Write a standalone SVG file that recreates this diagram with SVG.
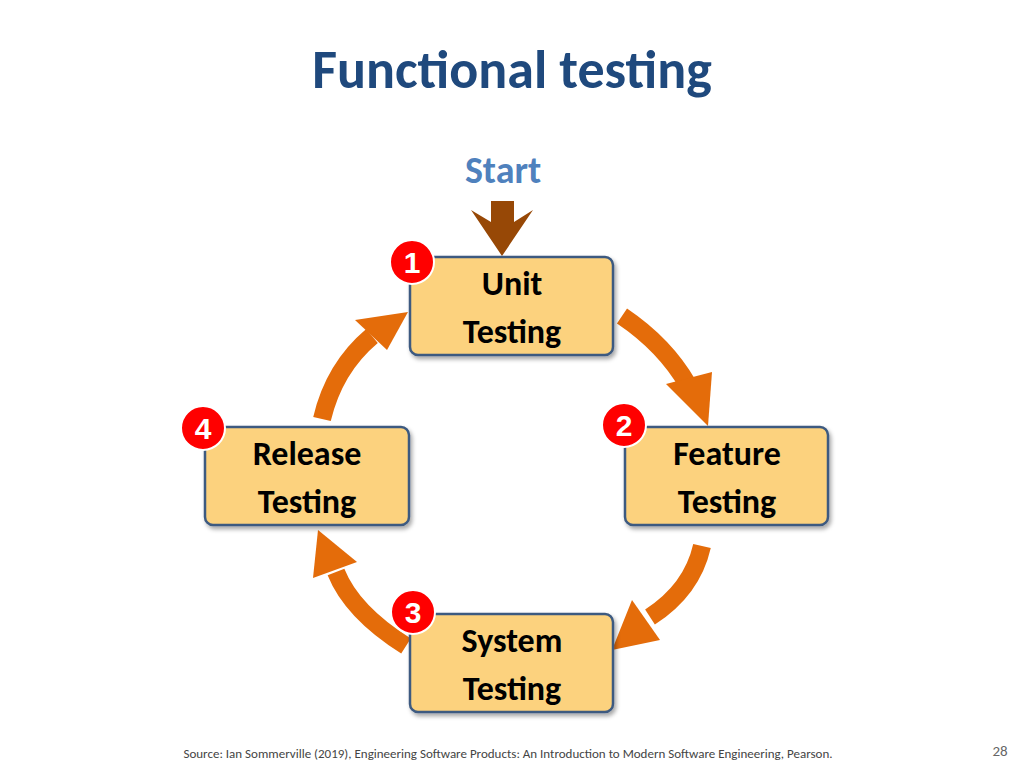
<svg xmlns="http://www.w3.org/2000/svg" width="1024" height="768" viewBox="0 0 1024 768">
<defs>
<style>
.box{fill:#fcd27e;stroke:#3e5a80;stroke-width:2.5}
.lbl{font-family:Calibri,Carlito,"Liberation Sans",sans-serif;font-weight:bold;font-size:34px;fill:#000;text-anchor:middle}
.shaft{fill:none;stroke:#e46c0a;stroke-width:18}
.head{fill:#e46c0a}
.badge{fill:#ff0000;stroke:#fff;stroke-width:2}
.num{font-family:"Liberation Sans",Arial,sans-serif;font-weight:bold;font-size:30px;fill:#fff;text-anchor:middle}
</style>
<filter id="sh" x="-10%" y="-10%" width="130%" height="130%"><feDropShadow dx="2" dy="3" stdDeviation="2" flood-opacity="0.35"/></filter>
</defs>
<rect width="1024" height="768" fill="#fff"/>
<text x="512" y="88" font-family="Calibri,Carlito,'Liberation Sans',sans-serif" font-weight="bold" font-size="54" fill="#1f497d" text-anchor="middle">Functional testing</text>
<text x="503" y="183" font-family="Calibri,Carlito,'Liberation Sans',sans-serif" font-weight="bold" font-size="38" fill="#4f81bd" text-anchor="middle">Start</text>
<g id="connectors">
<polygon points="491,201 514,201 514,222 533,210 502,256 471,210 491,222" fill="#974806"/>
<path class="shaft" d="M622,316 Q665,345 688,385"/>
<polygon class="head" points="666,384 712,372 708,426"/>
<path class="shaft" d="M702,546 Q692,590 650,617"/>
<polygon class="head" points="632,600 660,640 612,650"/>
<path class="shaft" d="M406,646 Q352,612 336,572"/>
<polygon class="head" points="313,578 357,562 318,530"/>
<path class="shaft" d="M322,419 Q334,368 372,336"/>
<polygon class="head" points="355,320 387,350 408,312"/>
</g>
<g id="unit"><rect class="box" x="410" y="257" width="203" height="98" rx="8" filter="url(#sh)"/><text class="lbl" x="512" y="295">Unit</text><text class="lbl" x="512" y="343">Testing</text></g>
<g id="feature"><rect class="box" x="625" y="427" width="203" height="98" rx="8" filter="url(#sh)"/><text class="lbl" x="727" y="465">Feature</text><text class="lbl" x="727" y="513">Testing</text></g>
<g id="release"><rect class="box" x="205" y="427" width="204" height="98" rx="8" filter="url(#sh)"/><text class="lbl" x="307" y="465">Release</text><text class="lbl" x="307" y="513">Testing</text></g>
<g id="system"><rect class="box" x="410" y="614" width="203" height="98" rx="8" filter="url(#sh)"/><text class="lbl" x="512" y="652">System</text><text class="lbl" x="512" y="700">Testing</text></g>
<g id="b1"><circle class="badge" cx="412" cy="262" r="22"/><text class="num" x="412" y="273">1</text></g>
<g id="b2"><circle class="badge" cx="624" cy="425" r="22"/><text class="num" x="624" y="436">2</text></g>
<g id="b3"><circle class="badge" cx="413" cy="612" r="22"/><text class="num" x="413" y="623">3</text></g>
<g id="b4"><circle class="badge" cx="203" cy="428" r="22"/><text class="num" x="203" y="439">4</text></g>
<text x="508" y="758" font-family="Calibri,Carlito,'Liberation Sans',sans-serif" font-size="13" fill="#444" text-anchor="middle">Source: Ian Sommerville (2019), Engineering Software Products:  An Introduction to Modern Software Engineering, Pearson.</text>
<text x="1000" y="756" font-family="Calibri,Carlito,'Liberation Sans',sans-serif" font-size="15" fill="#666" text-anchor="middle">28</text>
</svg>
